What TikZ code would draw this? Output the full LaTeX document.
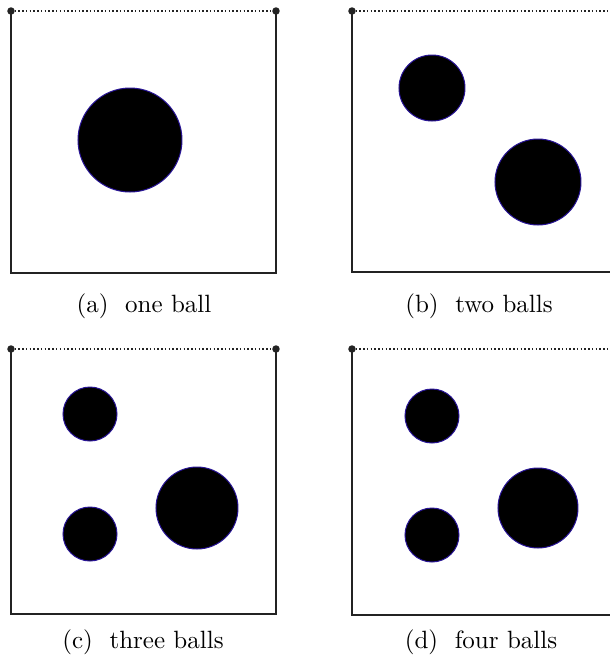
\documentclass[tikz,border=0pt]{standalone}
\definecolor{rim}{RGB}{40,20,150}
\definecolor{framecol}{RGB}{35,35,35}
\tikzset{
  framebox/.style={draw=framecol, line width=0.8pt},
  topline/.style={draw=framecol, line width=0.8pt, dash pattern=on 0.6pt off 0.9pt},
  cornerdot/.style={fill=framecol},
  ball/.style={fill=black, draw=rim, line width=0.4pt},
  captext/.style={font=\normalsize, inner sep=0pt, anchor=base}
}
\begin{document}
\begin{tikzpicture}[x=0.4pt, y=-0.4pt]
\useasboundingbox (0,0) rectangle (610,656);
\clip (0,0) rectangle (610,656);
\fill[white] (0,0) rectangle (610,656);
% panels: (left, top, right, bottom)
\foreach \L/\T/\R/\B/\n in {11/11/276/273/a, 352/11/617/272/b, 11/349/276/614/c, 352/349/617/615/d}{
  \coordinate (tl\n) at (\L,\T);
  \coordinate (tr\n) at (\R,\T);
  \coordinate (bl\n) at (\L,\B);
  \coordinate (br\n) at (\R,\B);
  \draw[framebox] (tl\n) -- (bl\n) -- (br\n) -- (tr\n);
  \draw[topline] (tl\n) -- (tr\n);
  \fill[cornerdot] (tl\n) circle (1.5pt);
  \fill[cornerdot] (tr\n) circle (1.5pt);
}
% balls
\draw[ball] (130,140) circle (52);
\draw[ball] (432,88) circle (33);
\draw[ball] (538,182) circle (43);
\draw[ball] (90,414) circle (27);
\draw[ball] (90,534) circle (27);
\draw[ball] (197,508) circle (41);
\draw[ball] (432,416) circle (27);
\draw[ball] (432,535) circle (27);
\draw[ball] (538,508) circle (40);
% captions
\node[captext] (capa) at (144,312) {(a)\ \ one ball};
\node[captext] (capb) at (479,312) {(b)\ \ two balls};
\node[captext] (capc) at (143,648) {(c)\ \ three balls};
\node[captext] (capd) at (481,648) {(d)\ \ four balls};
\end{tikzpicture}
\end{document}
